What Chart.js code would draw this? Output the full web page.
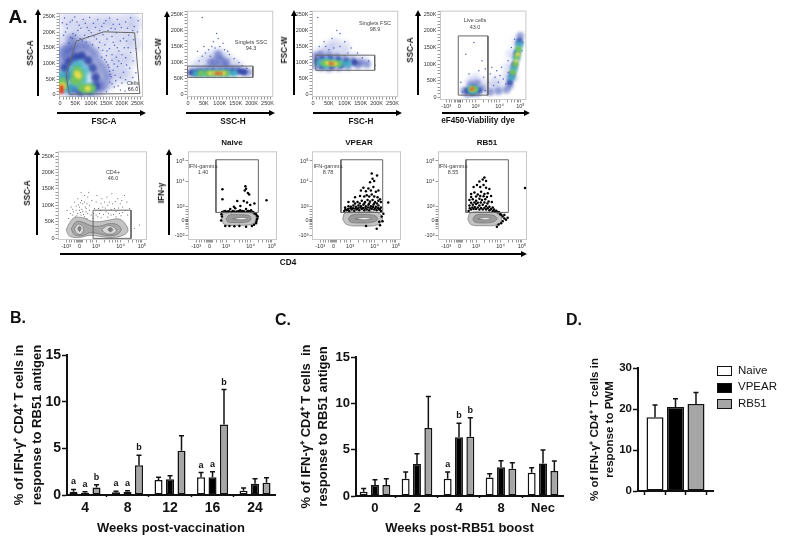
<!DOCTYPE html>
<html>
<head>
<meta charset="utf-8">
<script src="https://cdn.jsdelivr.net/npm/chart.js@4"></script>
<style>
html, body { margin: 0; padding: 0; background: #fff; }
#page { position: relative; width: 787px; height: 548px; overflow: hidden; font-family: "Liberation Sans", Arial, sans-serif; color: #111; }
canvas { position: absolute; }
#arrows { position: absolute; left: 0; top: 0; }
.txt { position: absolute; white-space: nowrap; transform: translate(-50%, -50%); line-height: 1; will-change: transform; }
.swatch { position: absolute; width: 13px; height: 8px; border: 1.5px solid #111; }
</style>
</head>
<body>
<div id="page"><svg id="arrows" width="787" height="548"></svg></div>
<script>
// bar panels
const seriesNames = ['Naive', 'VPEAR', 'RB51'];
const weeksB = ['4', '8', '12', '16', '24'];
const naiveB = [0.35, 0.3, 1.6, 1.9, 0.45];
const vpearB = [0.25, 0.35, 1.7, 1.9, 1.2];
const rb51B = [0.8, 3.2, 4.75, 7.55, 1.3];
const naiveBTop = [0.6, 0.4, 1.9, 2.4, 0.75];
const vpearBTop = [0.35, 0.45, 2.05, 2.5, 1.75];
const rb51BTop = [1.1, 4.25, 6.35, 11.3, 1.85];
const lettersB = [[0, 0, 'a'], [1, 0, 'a'], [2, 0, 'b'], [0, 1, 'a'], [1, 1, 'a'], [2, 1, 'b'], [0, 3, 'a'], [1, 3, 'a'], [2, 3, 'b']];

const weeksC = ['0', '2', '4', '8', 'Nec'];
const naiveC = [0.45, 1.85, 1.85, 2, 2.5];
const vpearC = [1.2, 3.45, 6.35, 3.1, 3.5];
const rb51C = [1.2, 7.35, 6.4, 2.95, 2.7];
const naiveCTop = [0.8, 2.6, 2.6, 2.4, 3.05];
const vpearCTop = [1.75, 4.55, 7.85, 3.8, 4.96];
const rb51CTop = [1.85, 10.75, 8.45, 3.6, 3.77];
const lettersC = [[0, 2, 'a'], [1, 2, 'b'], [2, 2, 'b']];

const valuesD = [18, 20.5, 21.2];
const valuesDTop = [21, 22.5, 24];

// flow panels: K units on linear axes, position along the biexponential axis otherwise
const kMajor = [0, 50, 100, 150, 200, 250];
const biexpMajor = [-0.8, 0, 1, 2.47, 3.75];
const biexpMajorLabels = ['-10³', '0', '10³', '10⁴', '10⁵'];
const biexpMinor = [-0.6, -0.45, -0.3, -0.2, -0.1, -0.05, 0.05, 0.1, 0.2, 0.45, 0.65, 0.8, 1.5, 1.8, 2.0, 2.15, 2.3, 2.95, 3.2, 3.4, 3.55, 3.65];
const biexpYMajor = [-1.07, 0, 1, 2.86, 4.36];
const biexpYLabels = ['-10³', '0', '10³', '10⁴', '10⁵'];

const p1Gate = [[30, 2], [20, 62], [52, 171], [142, 201], [241, 198], [258, 4], [30, 2]];
const p1Haze = [[20, 240], [60, 240], [100, 235], [140, 240], [180, 235], [220, 240], [245, 230], [30, 205], [70, 205], [110, 210], [150, 215], [190, 205], [230, 200], [10, 170], [50, 175], [90, 175], [130, 180], [170, 170], [210, 165], [240, 160], [10, 130], [50, 135], [90, 135], [130, 140], [170, 125], [200, 120], [225, 110], [170, 90], [195, 75], [170, 50], [150, 35], [215, 60]];
const p1Blue = [[8, 100], [20, 120], [35, 140], [50, 150], [70, 160], [90, 150], [110, 130], [125, 105], [140, 85], [150, 60], [140, 30], [125, 15], [100, 10], [70, 10], [40, 10], [15, 20], [8, 60], [25, 80], [45, 110], [70, 120], [95, 100], [115, 70], [120, 40], [40, 175], [8, 135], [25, 150]];
const p1Navy = [[15, 50], [15, 85], [30, 105], [50, 120], [70, 125], [90, 110], [105, 85], [115, 55], [115, 28], [95, 15], [65, 12], [40, 22], [30, 60]];
const p1Cyan = [[45, 45], [40, 70], [50, 90], [65, 95], [80, 75], [75, 50], [60, 32], [80, 22], [100, 20], [30, 22], [8, 60], [8, 45]];
const p1Green = [[50, 60], [55, 78], [65, 65], [48, 45], [85, 20], [100, 20], [72, 22], [8, 42], [8, 28], [60, 50]];
const p1Yellow = [[55, 68], [60, 60], [8, 30], [5, 22], [90, 20]];
const p1Red = [[5, 8], [5, 14], [5, 20], [5, 26]];
const p1Speck = [[15, 245], [33, 232], [48, 248], [62, 222], [75, 240], [88, 215], [96, 247], [108, 228], [122, 240], [135, 218], [148, 236], [160, 245], [172, 225], [185, 240], [198, 215], [212, 232], [228, 246], [240, 218], [252, 236], [24, 212], [42, 195], [58, 205], [80, 190], [101, 198], [118, 178], [139, 192], [155, 205], [168, 186], [182, 198], [205, 180], [222, 190], [238, 176], [250, 200], [145, 160], [160, 148], [176, 158], [190, 140], [208, 150], [228, 135], [245, 148], [150, 125], [168, 110], [182, 120], [198, 100], [212, 118], [236, 108], [155, 95], [172, 78], [186, 90], [205, 72], [225, 85], [245, 70], [165, 58], [180, 45], [200, 38], [232, 40], [175, 25], [195, 15], [150, 10], [222, 20], [248, 25], [12, 190], [28, 165], [40, 180], [65, 180], [85, 168], [105, 160], [125, 150], [135, 120], [150, 105], [160, 75], [160, 40], [8, 230], [22, 225], [40, 238], [55, 232], [68, 212], [82, 228], [94, 205], [115, 215], [128, 205], [142, 228], [165, 212], [178, 210], [192, 225], [218, 212], [235, 205], [18, 200], [35, 182], [50, 190], [72, 172], [92, 185], [110, 188], [128, 168], [152, 178], [172, 168], [195, 172], [215, 172], [138, 142], [152, 140], [168, 128], [185, 150], [200, 128], [220, 150], [145, 112], [158, 88], [175, 98], [190, 108], [215, 95], [162, 65], [178, 62], [195, 55], [212, 48], [168, 35], [188, 28], [210, 12], [235, 55]];

const p2Gate = [[-1, 89], [204, 89], [204, 54], [-1, 54], [-1, 89]];
const p2Haze = [[40, 100], [60, 115], [80, 125], [100, 130], [120, 115], [140, 100], [160, 88], [20, 85], [90, 105], [110, 100]];
const p2Blue = [[15, 72], [35, 75], [55, 80], [75, 85], [95, 90], [115, 88], [135, 82], [155, 78], [175, 72], [190, 70], [85, 105], [105, 110], [70, 100], [120, 100], [95, 125]];
const p2Navy = [[10, 68], [25, 68], [40, 70], [60, 70], [80, 72], [100, 72], [120, 72], [140, 72], [160, 72], [175, 70]];
const p2Cyan = [[25, 66], [45, 67], [65, 67], [85, 67], [105, 67], [125, 67], [145, 67]];
const p2Green = [[40, 67], [60, 67], [78, 67], [100, 67], [120, 67]];
const p2Yellow = [[70, 67], [85, 67], [100, 67], [112, 67]];
const p2Red = [[88, 66], [96, 66], [104, 66]];
const p2Speck = [[30, 135], [50, 150], [65, 140], [80, 165], [90, 190], [70, 120], [100, 150], [115, 140], [130, 125], [145, 112], [160, 100], [45, 120], [35, 105], [45, 240], [75, 150], [85, 145], [95, 175], [110, 160], [125, 135], [55, 130], [170, 90], [185, 82]];

const p3Gate = [[9, 123], [194, 123], [194, 76], [9, 76], [9, 123]];
const p3Haze = [[15, 128], [40, 135], [70, 135], [100, 125], [130, 115], [160, 105], [70, 160], [100, 150], [50, 150]];
const p3Blue = [[8, 120], [8, 90], [25, 125], [50, 122], [75, 118], [100, 112], [125, 106], [150, 100], [170, 95], [25, 85], [50, 82], [80, 85], [110, 88], [140, 92]];
const p3Navy = [[12, 105], [30, 112], [55, 112], [80, 108], [105, 103], [130, 100], [30, 90], [60, 88], [90, 92]];
const p3Cyan = [[20, 100], [35, 102], [50, 104], [70, 100], [90, 98], [110, 97], [40, 92]];
const p3Green = [[35, 98], [50, 98], [65, 97], [80, 96]];
const p3Yellow = [[45, 98], [60, 97], [70, 96]];
const p3Red = [[55, 97], [62, 96]];
const p3Speck = [[20, 150], [35, 165], [60, 175], [85, 190], [100, 165], [120, 145], [140, 130], [155, 115], [175, 105], [195, 92], [15, 240], [50, 140], [75, 200], [110, 130], [85, 150], [65, 145], [40, 150]];

const p4Gate = [[-0.06, 185], [1.76, 185], [1.76, 6], [-0.06, 6], [-0.06, 185]];
const p4Haze = [[0.7, 45], [1, 55], [1.5, 40], [2, 30], [2.5, 30], [2.9, 60], [2.2, 50], [3.2, 130], [3.6, 170], [3, 90], [3.3, 60]];
const p4Blue = [[0.3, 20], [0.7, 38], [1.1, 42], [1.4, 25], [1.1, 12], [0.5, 10], [2.9, 22], [3.1, 35], [3.2, 60], [3.35, 90], [3.5, 125], [3.65, 160], [3.75, 185], [2.4, 18], [1.9, 15]];
const p4Navy = [[0.5, 20], [0.9, 28], [1.2, 20], [0.8, 12], [3.1, 45], [3.25, 70], [3.4, 100], [3.55, 135], [3.7, 170]];
const p4Cyan = [[0.7, 24], [1, 25], [0.85, 18], [3.2, 60], [3.35, 85], [3.5, 115], [3.6, 140], [3.7, 160]];
const p4Green = [[0.75, 24], [0.95, 24], [3.3, 75], [3.45, 100], [3.55, 125], [3.65, 145]];
const p4Yellow = [[0.8, 24], [3.5, 110], [3.6, 130]];
const p4Red = [[0.75, 23], [0.85, 26]];
const p4Speck = [[1.5, 60], [1.9, 70], [2.3, 80], [2.6, 90], [1.8, 45], [2.2, 60], [2.7, 55], [1.2, 80], [0.6, 70], [1.4, 110], [0.4, 130], [0.9, 165], [3.0, 110], [3.2, 150], [3.4, 175], [2.85, 40], [2.1, 35], [1.6, 20], [0.1, 45], [0.2, 15], [2.4, 45], [2.0, 90], [1.6, 85], [2.5, 65], [3.0, 75], [3.9, 165], [3.85, 140]];

const p5Gate = [[0.82, 85], [3.1, 85], [3.1, -1], [0.82, -1], [0.82, 85]];
const p5Outer = [[-0.8, 25], [-0.55, 50], [-0.3, 62], [0.2, 62], [0.7, 52], [1.2, 50], [1.8, 55], [2.4, 58], [2.8, 40], [2.9, 20], [2.5, 6], [1.8, 2], [1.1, 6], [0.6, 8], [0, 2], [-0.6, 6], [-0.8, 25]];
const p5Mid = [[-0.5, 28], [-0.2, 50], [0.2, 48], [0.7, 38], [1.2, 36], [1.8, 44], [2.3, 40], [2.5, 25], [2.2, 10], [1.6, 8], [1.1, 14], [0.6, 16], [0.2, 8], [-0.3, 10], [-0.5, 28]];
const p5RingA = [[-0.3, 28], [-0.1, 42], [0.15, 38], [0.25, 25], [0.1, 12], [-0.15, 14], [-0.3, 28]];
const p5RingB = [[1.35, 26], [1.7, 38], [2.1, 32], [2.2, 20], [1.9, 12], [1.5, 16], [1.35, 26]];
const p5CoreA = [[-0.1, 30], [0, 36], [0.1, 30], [0, 20], [-0.1, 30]];
const p5CoreB = [[1.7, 26], [1.85, 32], [2, 26], [1.85, 19], [1.7, 26]];
const p5Speck = [[-0.4, 70], [-0.2, 85], [0, 95], [0.2, 105], [-0.1, 120], [0.3, 130], [0.1, 140], [0.5, 125], [0.6, 100], [0.4, 80], [0.7, 70], [0.9, 90], [1.0, 110], [1.2, 75], [1.4, 95], [1.3, 62], [1.6, 80], [1.8, 110], [1.9, 70], [2.1, 90], [2.3, 120], [2.4, 75], [2.6, 95], [2.7, 130], [2.9, 70], [3.0, 90], [3.1, 50], [3.3, 30], [3.6, 40], [0.8, 60], [1.0, 70], [1.15, 90], [1.5, 110], [1.7, 64], [2.0, 105], [2.2, 65], [2.5, 68], [-0.5, 95], [-0.3, 110], [-0.15, 68], [0.05, 78], [0.25, 72], [0.45, 60], [0.55, 140], [0.75, 115], [1.05, 130], [1.35, 120], [1.65, 125], [1.95, 135], [2.55, 115], [-0.65, 60], [-0.75, 85], [0.15, 88], [0.35, 95], [2.85, 110], [-0.55, 75], [-0.05, 102], [0.12, 115], [-0.35, 80], [-0.25, 65], [-0.1, 75], [0, 85], [0.1, 70], [0.2, 82], [0.3, 65], [0.4, 90], [0.5, 75], [0.6, 85], [0.3, 110], [0.45, 105], [0.05, 108], [-0.2, 98], [-0.4, 88], [0.85, 75], [1.1, 65], [1.25, 85], [1.45, 72], [1.55, 92], [1.75, 76], [1.9, 88], [2.05, 72], [2.2, 82], [2.35, 92], [2.6, 78], [2.75, 85], [1.3, 105], [1.7, 100], [2.15, 112], [2.45, 105]];

const gateIfnNaive = [[0.39, 4.45], [0.39, 0.59], [2.94, 0.59], [2.94, 4.45], [0.39, 4.45]];
const gateIfnVpear = [[0.45, 4.45], [0.45, 0.59], [2.96, 0.59], [2.96, 4.45], [0.45, 4.45]];
const gateIfnRb51 = [[0.39, 4.45], [0.39, 0.59], [2.94, 0.59], [2.94, 4.45], [0.39, 4.45]];
const p6Outer = [[0.72, 0.1], [0.9, 0.55], [1.6, 0.6], [2.5, 0.55], [2.78, 0.2], [2.6, -0.25], [1.6, -0.35], [0.9, -0.3], [0.72, 0.1]];
const p6Mid = [[1, 0.12], [1.2, 0.4], [1.9, 0.42], [2.4, 0.35], [2.5, 0.1], [2.3, -0.1], [1.5, -0.15], [1.1, -0.1], [1, 0.12]];
const p6Core = [[1.4, 0.12], [1.9, 0.22], [2.3, 0.15], [1.9, 0.05], [1.4, 0.12]];
const p6Dots = [[0.78, 2.28], [0.78, 1.55], [2.2, 2.33], [2.12, 2.19], [2.31, 2.02], [2.39, 1.9], [2.26, 1.31], [2.06, 1.43], [1.67, 1.43], [1.47, 1], [1.86, 1.07], [2.45, 1.14], [2.7, 1.24], [3.43, 1.48], [2.16, 2.5], [0.75, 0.6], [0.85, 0.65], [0.95, 0.7], [1.05, 0.62], [1.1, 0.65], [1.18, 0.68], [1.25, 0.85], [1.32, 0.62], [1.4, 0.7], [1.48, 0.65], [1.55, 0.9], [1.62, 0.66], [1.7, 0.65], [1.78, 0.7], [1.85, 0.75], [1.92, 0.66], [2, 0.7], [2.1, 0.66], [2.2, 0.85], [2.28, 0.68], [2.35, 0.7], [2.42, 0.64], [2.5, 0.75], [2.58, 0.62], [2.65, 0.6], [2.72, 0.52], [2.8, 0.45], [2.85, 0.35], [2.9, 0.3], [2.88, 0.15], [2.85, 0.05], [2.82, -0.1], [2.8, -0.2], [2.68, -0.32], [2.55, -0.4], [2.2, -0.45], [1.8, -0.4], [1.5, -0.42], [1.2, -0.4], [0.95, -0.4], [0.75, 0.3], [0.7, 0], [0.72, 0.45]];

const p7Outer = [[0.55, 0.1], [0.7, 0.55], [1.6, 0.62], [2.6, 0.6], [2.95, 0.2], [2.7, -0.3], [1.6, -0.4], [0.8, -0.3], [0.55, 0.1]];
const p7Mid = [[0.9, 0.12], [1.1, 0.4], [1.9, 0.44], [2.5, 0.35], [2.65, 0.1], [2.4, -0.12], [1.5, -0.18], [1, -0.1], [0.9, 0.12]];
const p7Core = [[1.3, 0.12], [1.8, 0.22], [2.3, 0.15], [1.8, 0.05], [1.3, 0.12]];
const p7Dots = [[0.65, 0.7], [0.8, 0.75], [0.95, 0.7], [1.1, 0.8], [1.25, 0.72], [1.4, 0.8], [1.55, 0.75], [1.7, 0.85], [1.85, 0.75], [2, 0.8], [2.15, 0.75], [2.3, 0.85], [2.45, 0.8], [2.6, 0.75], [2.75, 0.8], [2.85, 0.7], [0.72, 0.82], [0.88, 0.85], [1.02, 0.9], [1.18, 0.9], [1.32, 0.88], [1.48, 0.9], [1.62, 0.95], [1.78, 0.92], [1.92, 0.92], [2.08, 0.95], [2.22, 0.92], [2.38, 0.98], [2.52, 0.9], [2.68, 0.92], [2.8, 0.85], [0.7, 0.95], [0.9, 1.05], [1.05, 1], [1.2, 1.1], [1.35, 1], [1.5, 1.1], [1.65, 1.05], [1.8, 1.15], [1.95, 1.05], [2.1, 1.15], [2.25, 1.05], [2.4, 1.15], [2.55, 1], [2.7, 1.1], [2.85, 0.95], [0.9, 1.35], [1.2, 1.4], [1.45, 1.35], [1.7, 1.45], [1.9, 1.35], [2.05, 1.5], [2.2, 1.4], [2.35, 1.5], [2.5, 1.35], [2.7, 1.45], [2.85, 1.35], [1.3, 1.25], [1.58, 1.25], [1.85, 1.25], [2.15, 1.25], [2.45, 1.25], [2.62, 1.25], [1.3, 1.7], [1.6, 1.8], [1.85, 1.75], [2, 1.85], [2.15, 1.75], [2.3, 1.9], [2.45, 1.75], [2.65, 1.7], [2.8, 1.55], [1.65, 2.2], [1.8, 2.4], [1.95, 2.15], [2.1, 2.35], [2.25, 2.2], [2.4, 2.45], [2.55, 2.1], [2.7, 2.2], [2.2, 2.8], [2.45, 2.9], [2.35, 3.05], [2.3, 3.45], [2.62, 3.3], [3.29, 1.31], [2.6, -0.6], [2.8, -0.35], [2.75, -0.1], [2.95, -0.05], [1.96, -0.4], [3.0, 0.5], [2.9, 0.3]];

const p8Outer = [[0.5, 0.1], [0.65, 0.55], [1.4, 0.62], [2.25, 0.55], [2.55, 0.15], [2.3, -0.3], [1.4, -0.38], [0.7, -0.3], [0.5, 0.1]];
const p8Mid = [[0.8, 0.12], [1, 0.4], [1.6, 0.44], [2.1, 0.35], [2.25, 0.1], [2, -0.12], [1.3, -0.18], [0.9, -0.1], [0.8, 0.12]];
const p8Core = [[1.1, 0.12], [1.5, 0.22], [1.9, 0.15], [1.5, 0.05], [1.1, 0.12]];
const p8Dots = [[0.55, 0.7], [0.7, 0.8], [0.85, 0.85], [1, 0.85], [1.2, 0.8], [1.4, 0.8], [1.6, 0.8], [1.8, 0.75], [2, 0.7], [2.15, 0.65], [2.3, 0.6], [2.45, 0.45], [2.6, 0.3], [2.7, 0.15], [2.8, 0.05], [2.9, 0.2], [2.6, -0.05], [2.5, -0.2], [2.35, -0.3], [2.25, -0.45], [2.7, 0.4], [0.62, 0.9], [0.78, 0.95], [0.92, 0.98], [1.1, 0.95], [1.3, 0.92], [1.5, 0.92], [1.7, 0.9], [1.9, 0.85], [2.08, 0.8], [2.22, 0.72], [2.38, 0.6], [2.52, 0.42], [0.6, 1.1], [0.8, 1.15], [1, 1.2], [1.2, 1.1], [1.4, 1.15], [1.6, 1.05], [1.8, 1], [2, 0.95], [0.6, 1.5], [0.8, 1.55], [1, 1.45], [1.2, 1.6], [1.35, 1.5], [1.55, 1.55], [1.75, 1.4], [1.95, 1.35], [0.7, 1.3], [0.9, 1.32], [1.1, 1.3], [1.28, 1.32], [1.5, 1.32], [1.68, 1.25], [0.7, 1.95], [0.9, 2.05], [1.1, 1.9], [1.3, 2.1], [1.5, 1.95], [1.7, 2], [1.9, 1.8], [0.7, 1.72], [1.0, 1.75], [1.25, 1.8], [1.45, 1.78], [1.65, 1.72], [0.85, 2.45], [1.05, 2.6], [1.25, 2.45], [1.45, 2.6], [1.6, 2.4], [1.8, 2.3], [1.2, 2.85], [1.4, 3], [1.5, 3.15], [1.6, 2.9], [3.94, 2.38]];

const black = '#111';
const barColors = ['#ffffff', '#000000', '#a6a6a6'];
const labelFont = '"Liberation Sans", Arial, sans-serif';
const page = document.getElementById('page');

const tierStyle = {
    haze: { color: 'rgba(125,140,215,0.24)', r: 8, blur: 4 },
    blue: { color: 'rgba(60,80,180,0.5)', r: 5.5, blur: 3 },
    navy: { color: 'rgba(34,53,159,0.75)', r: 4.5, blur: 2.5 },
    cyan: { color: 'rgba(63,176,200,0.9)', r: 5, blur: 3 },
    green: { color: 'rgba(116,196,90,0.95)', r: 4.5, blur: 2 },
    yellow: { color: 'rgba(233,220,79,0.95)', r: 3, blur: 1.5 },
    red: { color: 'rgba(221,60,39,0.9)', r: 2, blur: 1 },
    speck: { color: '#5064bf', r: 0.75, blur: 0 }
};

const softPoints = {
    id: 'softPoints',
    beforeDatasetDraw(chart, args) {
        chart.ctx.save();
        const b = chart.data.datasets[args.index].blur;
        if (b) chart.ctx.filter = 'blur(' + b + 'px)';
    },
    afterDatasetDraw(chart) {
        chart.ctx.restore();
    }
};

const frame = {
    id: 'frame',
    beforeDraw(chart) {
        const a = chart.chartArea, ctx = chart.ctx;
        ctx.save();
        ctx.strokeStyle = '#c9c9c9';
        ctx.lineWidth = 1;
        ctx.strokeRect(a.left + 0.5, a.top + 0.5, a.width - 1, a.height - 1);
        ctx.restore();
    }
};

const errorBars = {
    id: 'errorBars',
    afterDatasetsDraw(chart) {
        const ctx = chart.ctx, yScale = chart.scales.y;
        ctx.save();
        ctx.strokeStyle = black;
        ctx.lineWidth = 1.5;
        chart.data.datasets.forEach((ds, d) => {
            chart.getDatasetMeta(d).data.forEach((bar, i) => {
                const top = yScale.getPixelForValue(ds.errTop[i]);
                ctx.beginPath();
                ctx.moveTo(bar.x, bar.y);
                ctx.lineTo(bar.x, top);
                ctx.moveTo(bar.x - 2.5, top);
                ctx.lineTo(bar.x + 2.5, top);
                ctx.stroke();
            });
        });
        const letters = chart.options.plugins.errorBars.letters || [];
        ctx.fillStyle = black;
        ctx.font = 'bold 9px ' + labelFont;
        ctx.textAlign = 'center';
        letters.forEach(l => {
            const ds = chart.data.datasets[l[0]];
            const bar = chart.getDatasetMeta(l[0]).data[l[1]];
            ctx.fillText(l[2], bar.x, yScale.getPixelForValue(ds.errTop[l[1]]) - 5);
        });
        ctx.restore();
    }
};

function addCanvas(left, top, width, height) {
    const c = document.createElement('canvas');
    c.width = width;
    c.height = height;
    c.style.left = left + 'px';
    c.style.top = top + 'px';
    page.appendChild(c);
    return c;
}

function addText(x, y, text, size, bold, rot) {
    const d = document.createElement('div');
    d.className = 'txt';
    d.style.left = x + 'px';
    d.style.top = y + 'px';
    d.style.fontSize = size + 'px';
    if (bold) d.style.fontWeight = 'bold';
    if (rot) d.style.transform = 'translate(-50%, -50%) rotate(' + rot + 'deg)';
    d.textContent = text;
    page.appendChild(d);
    return d;
}

function addArrow(x1, y1, x2, y2) {
    const svg = document.getElementById('arrows');
    const dx = Math.sign(x2 - x1), dy = Math.sign(y2 - y1);
    const bx = x2 - dx * 6, by = y2 - dy * 6;
    const px = dy * 3, py = dx * 3;
    svg.insertAdjacentHTML('beforeend',
        `<line x1="${x1}" y1="${y1}" x2="${bx}" y2="${by}" stroke="#000" stroke-width="2"/>` +
        `<polygon points="${x2},${y2} ${bx + px},${by + py} ${bx - px},${by - py}" fill="#000"/>`);
}

function tickAxis(major, labels, minor, lim, extra) {
    const all = major.concat(minor);
    return Object.assign({
        type: 'linear',
        min: lim[0],
        max: lim[1],
        afterBuildTicks: s => { s.ticks = all.map(v => ({ value: v })); },
        ticks: {
            autoSkip: false,
            maxRotation: 0,
            padding: 1,
            color: '#333',
            font: { size: 5.5, family: labelFont },
            callback: v => { const i = major.indexOf(v); return i < 0 ? '' : labels[i]; }
        },
        grid: { drawOnChartArea: false, tickLength: 2.5, tickWidth: 0.5, color: '#333' },
        border: { display: false }
    }, extra);
}

function flowPanel(p) {
    const left = p.box[0] - 24, top = p.box[1] - 2;
    const width = p.box[2] - p.box[0] + 26, height = p.box[3] - p.box[1] + 17;
    const scale = p.size || 1;
    const datasets = [];
    Object.keys(p.tiers || {}).forEach(name => {
        const st = tierStyle[name];
        datasets.push({
            data: p.tiers[name], showLine: false, pointBorderWidth: 0,
            pointRadius: name === 'speck' ? st.r : st.r * scale,
            pointBackgroundColor: st.color,
            blur: st.blur ? Math.max(1, st.blur * scale * 0.7) : 0
        });
    });
    // contour fills, outer to inner
    const greys = p.contours && p.contours.length === 3 ? ['#c4c4c4', '#9a9a9a', '#efefef'] : ['#c4c4c4', '#a8a8a8', '#d8d8d8', '#d8d8d8', '#808080', '#808080'];
    (p.contours || []).forEach((shape, i) => {
        datasets.push({
            data: shape, showLine: true, tension: 0.4, pointRadius: 0, fill: 'shape',
            backgroundColor: greys[i], borderColor: '#666', borderWidth: 0.6
        });
    });
    if (p.specks) datasets.unshift({ data: p.specks, showLine: false, pointRadius: 0.5, pointBorderWidth: 0, pointBackgroundColor: '#444' });
    if (p.dots) datasets.push({ data: p.dots, showLine: false, pointRadius: 1.25, pointBorderWidth: 0, pointBackgroundColor: '#000' });
    if (p.gate) datasets.push({ data: p.gate, showLine: true, tension: 0, pointRadius: 0, borderColor: '#666', borderWidth: 1, fill: false });
    datasets.forEach((d, i) => { d.order = 100 - i; });
    new Chart(addCanvas(left, top, width, height), {
        type: 'scatter',
        data: { datasets },
        plugins: [frame, softPoints],
        options: {
            animation: false,
            responsive: false,
            layout: { padding: { top: 2, right: 2 } },
            plugins: { legend: { display: false }, tooltip: { enabled: false } },
            scales: {
                x: Object.assign(p.x, { afterFit: s => { s.height = 15; } }),
                y: Object.assign(p.y, { afterFit: s => { s.width = 24; } })
            }
        }
    });
}

function barPanel(b) {
    const datasets = b.series.map((vals, i) => ({
        label: seriesNames[i],
        data: vals.map((v, j) => ({ x: j, y: v })),
        errTop: b.tops[i],
        backgroundColor: b.colors ? b.colors : barColors[i],
        borderColor: black,
        borderWidth: 1.5,
        categoryPercentage: b.cat,
        barPercentage: b.bar,
        borderSkipped: false
    }));
    new Chart(addCanvas(b.box[0], b.box[1], b.box[2], b.box[3]), {
        type: 'bar',
        data: { datasets },
        plugins: [errorBars],
        options: {
            animation: false,
            responsive: false,
            layout: { padding: { top: b.padTop, right: b.padRight } },
            plugins: { legend: { display: false }, tooltip: { enabled: false }, errorBars: { letters: b.letters } },
            scales: {
                x: {
                    type: 'linear',
                    offset: false,
                    min: b.xLim[0],
                    max: b.xLim[1],
                    afterBuildTicks: s => { s.ticks = b.cats.map((c, i) => ({ value: i })); },
                    afterFit: s => { s.height = b.bottom; },
                    ticks: {
                        autoSkip: false, maxRotation: 0, padding: 3, color: black,
                        font: { size: b.tickSize, weight: 'bold', family: labelFont },
                        callback: v => b.cats[v]
                    },
                    grid: { drawOnChartArea: false, tickLength: b.xTick, tickWidth: 1.5, color: black },
                    border: { color: black, width: 2 },
                    title: b.xTitle ? { display: true, text: b.xTitle, color: black, padding: { top: 4 }, font: { size: 13, weight: 'bold', family: labelFont } } : { display: false }
                },
                y: {
                    min: 0,
                    max: b.yMax,
                    afterFit: s => { s.width = b.leftWidth; },
                    ticks: {
                        stepSize: b.yStep, padding: 1, color: black,
                        font: { size: b.tickSize, weight: 'bold', family: labelFont }
                    },
                    grid: { drawOnChartArea: false, tickLength: 5, tickWidth: 1.5, color: black },
                    border: { color: black, width: 2 },
                    title: {
                        display: true, text: b.yTitle, color: black, padding: { top: b.titlePad, bottom: 0 },
                        font: { size: b.titleSize, weight: 'bold', family: labelFont, lineHeight: b.titleLine }
                    }
                }
            }
        }
    });
}

const kMinor = [10, 20, 30, 40, 60, 70, 80, 90, 110, 120, 130, 140, 160, 170, 180, 190, 210, 220, 230, 240, 260];
const kLabels = ['0', '50K', '100K', '150K', '200K', '250K'];
const kAxis = lim => tickAxis(kMajor, kLabels, kMinor.filter(v => v < lim[1]), lim);
const bxAxis = lim => tickAxis(biexpMajor, biexpMajorLabels, biexpMinor, lim);
const byAxis = lim => tickAxis(biexpYMajor, biexpYLabels, biexpMinor.slice(0, 12), lim);

flowPanel({ box: [59, 7, 149, 97], x: kAxis([-3, 268]), y: kAxis([-7, 261]), gate: p1Gate,
    tiers: { haze: p1Haze, speck: p1Speck, blue: p1Blue, navy: p1Navy, cyan: p1Cyan, green: p1Green, yellow: p1Yellow, red: p1Red } });
flowPanel({ box: [187, 7, 277, 97], x: kAxis([-3, 268]), y: kAxis([-7, 261]), gate: p2Gate, size: 0.72,
    tiers: { haze: p2Haze, speck: p2Speck, blue: p2Blue, navy: p2Navy, cyan: p2Cyan, green: p2Green, yellow: p2Yellow, red: p2Red } });
flowPanel({ box: [312, 7, 402, 97], x: kAxis([-3, 268]), y: kAxis([-7, 261]), gate: p3Gate, size: 0.72,
    tiers: { haze: p3Haze, speck: p3Speck, blue: p3Blue, navy: p3Navy, cyan: p3Cyan, green: p3Green, yellow: p3Yellow, red: p3Red } });
flowPanel({ box: [440, 7, 530, 100], x: bxAxis([-1.18, 4.12]), y: tickAxis(kMajor, kLabels, kMinor, [-8.7, 261.6]), gate: p4Gate, size: 0.7,
    tiers: { haze: p4Haze, speck: p4Speck, blue: p4Blue, navy: p4Navy, cyan: p4Cyan, green: p4Green, yellow: p4Yellow, red: p4Red } });
flowPanel({ box: [58, 149, 149, 240], x: bxAxis([-1.29, 4.06]), y: kAxis([-6, 265]), gate: p5Gate, specks: p5Speck,
    contours: [p5Outer, p5Mid, p5RingA, p5RingB, p5CoreA, p5CoreB] });
flowPanel({ box: [188, 149, 279, 240], x: bxAxis([-1.29, 4.06]), y: byAxis([-1.43, 5.07]), gate: gateIfnNaive, dots: p6Dots,
    contours: [p6Outer, p6Mid, p6Core] });
flowPanel({ box: [312, 149, 403, 240], x: bxAxis([-1.29, 4.06]), y: byAxis([-1.43, 5.07]), gate: gateIfnVpear, dots: p7Dots,
    contours: [p7Outer, p7Mid, p7Core] });
flowPanel({ box: [438, 149, 529, 240], x: bxAxis([-1.29, 4.06]), y: byAxis([-1.43, 5.07]), gate: gateIfnRb51, dots: p8Dots,
    contours: [p8Outer, p8Mid, p8Core] });

barPanel({
    box: [0, 325, 280, 215], leftWidth: 67, padTop: 30, padRight: 5, bottom: 45, xLim: [-0.424, 4.47], cats: weeksB,
    series: [naiveB, vpearB, rb51B], tops: [naiveBTop, vpearBTop, rb51BTop], letters: lettersB,
    cat: 0.81, bar: 0.7, yMax: 15, yStep: 5, tickSize: 14, xTick: 2, titleSize: 13, titleLine: 1.35, titlePad: 11,
    xTitle: 'Weeks post-vaccination', yTitle: ['% of IFN-γ⁺ CD4⁺ T cells in', 'response to RB51 antigen']
});
barPanel({
    box: [295, 325, 273, 215], leftWidth: 61, padTop: 32, padRight: 5, bottom: 44, xLim: [-0.452, 4.476], cats: weeksC,
    series: [naiveC, vpearC, rb51C], tops: [naiveCTop, vpearCTop, rb51CTop], letters: lettersC,
    cat: 0.81, bar: 0.7, yMax: 15, yStep: 5, tickSize: 13, xTick: 2, titleSize: 13, titleLine: 1.3, titlePad: 3,
    xTitle: 'Weeks post-RB51 boost', yTitle: ['% of IFN-γ⁺ CD4⁺ T cells  in', 'response to RB51 antigen']
});
barPanel({
    box: [585, 345, 133, 158], leftWidth: 53, padTop: 23, padRight: 5, bottom: 12, xLim: [-0.83, 2.83], cats: ['', '', ''],
    series: [valuesD], tops: [valuesDTop], colors: barColors,
    cat: 1, bar: 0.83, yMax: 30, yStep: 10, tickSize: 11.5, xTick: 4, titleSize: 11.5, titleLine: 1.3, titlePad: 2,
    yTitle: ['% of IFN-γ⁺ CD4⁺ T cells in', 'response to PWM']
});

// legend
seriesNames.forEach((n, i) => {
    const s = document.createElement('div');
    s.className = 'swatch';
    s.style.left = '717px';
    s.style.top = (366 + i * 16.7) + 'px';
    s.style.background = barColors[i];
    page.appendChild(s);
    addText(738, 370.5 + i * 16.7, n, 11.5).style.transform = 'translate(0, -50%)';
});

// panel letters
addText(18, 16, 'A.', 19, true);
addText(18, 318, 'B.', 16, true);
addText(283, 320, 'C.', 16, true);
addText(574, 320, 'D.', 16, true);

// flow axis arrows
[[57, 113, 146, 113], [38, 96, 38, 9], [186, 113, 275, 113], [167, 95, 167, 11], [313, 113, 402, 113], [294, 95, 294, 10],
 [442, 113, 530, 113], [418, 95, 418, 10], [37, 235, 37, 149], [169, 235, 169, 149], [60, 254, 527, 254]].forEach(a => addArrow(a[0], a[1], a[2], a[3]));

// flow axis names
[[104, 122, 'FSC-A', 0], [233, 122, 'SSC-H', 0], [361, 122, 'FSC-H', 0], [478, 121, 'eF450-Viability dye', 0], [31, 53, 'SSC-A', -90], [159, 52, 'SSC-W', -90],
 [285, 50, 'FSC-W', -90], [411, 50, 'SSC-A', -90], [28, 193, 'SSC-A', -90], [162, 193, 'IFN-γ', -90], [288, 263, 'CD4', 0]].forEach(t => addText(t[0], t[1], t[2], 8.2, true, t[3]));
[[232, 143, 'Naive'], [359, 143, 'VPEAR'], [487, 143, 'RB51']].forEach(t => addText(t[0], t[1], t[2], 8, true));

// gate captions
[[133, 84, 'Cells'], [133, 90, '66.0'], [251, 43, 'Singlets SSC'], [251, 49, '94.3'], [375, 24, 'Singlets FSC'], [375, 30, '98.9'],
 [475, 21, 'Live cells'], [475, 28, '43.0'], [113, 173, 'CD4+'], [113, 179, '46.0'], [203, 167, 'IFN-gamma'], [203, 173, '1.40'],
 [328, 167, 'IFN-gamma'], [328, 173, '8.78'], [453, 167, 'IFN-gamma'], [453, 173, '8.55']].forEach(t => addText(t[0], t[1], t[2], 5.5, false).style.color = '#444');
</script>
</body>
</html>
